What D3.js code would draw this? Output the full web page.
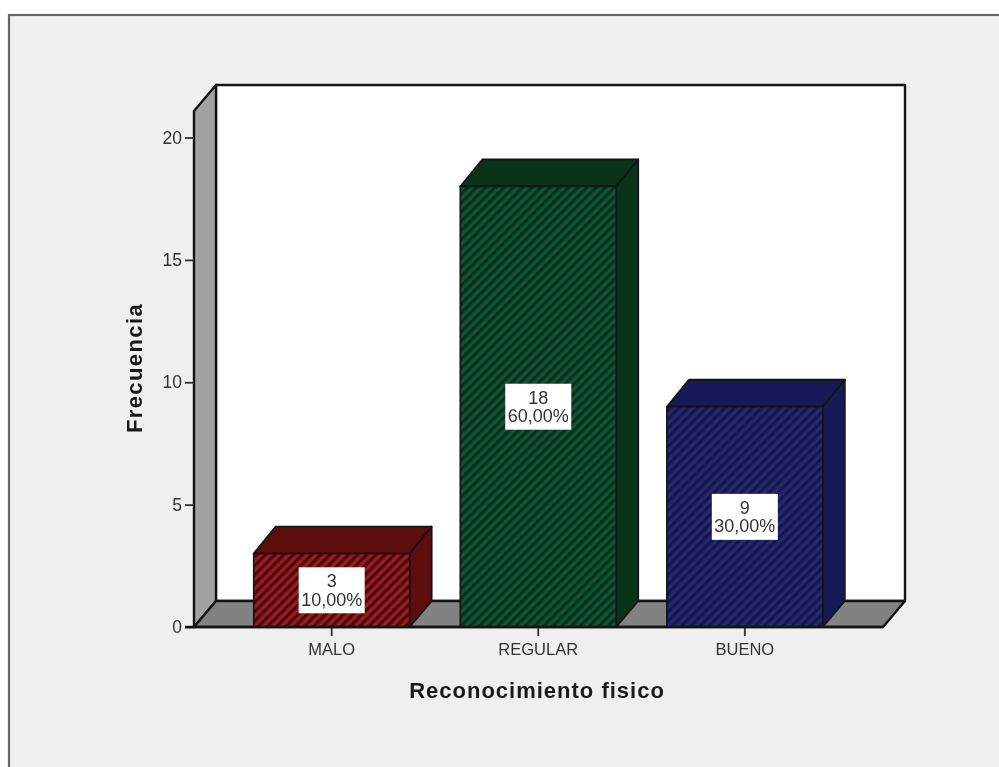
<!DOCTYPE html>
<html><head><meta charset="utf-8">
<script src="https://cdn.jsdelivr.net/npm/d3@7/dist/d3.min.js"></script>
<style>html,body{margin:0;padding:0;background:#fff;overflow:hidden}svg{display:block;filter:blur(.55px)}text{font-family:"Liberation Sans",Arial,sans-serif}</style>
</head><body><script>
const categories = ["MALO","REGULAR","BUENO"];
const counts = [3,18,9];
const percents = ["10,00%","60,00%","30,00%"];
const yTicks = [0,5,10,15,20];
const faceColors = ["#9c1a20","#0f5635","#26296f"];
const hatchColors = ["#470a0c","#0a2f1e","#15174a"];
const sideColors = ["#5e0d0d","#0a331c","#181a58"];
const xTitle = "Reconocimiento fisico";
const yTitle = "Frecuencia";

const W=999,H=767;
const svg=d3.select("body").append("svg").attr("width",W).attr("height",H);
const y=d3.scaleLinear().domain([0,20]).range([627,137.5]);
const x=d3.scaleBand().domain(categories).range([228.5,848]).paddingInner(.245).paddingOuter(.122);
const dx=22,dy=-26;
const left=194,right=883,wallTop=111;
const defs=svg.append("defs");
categories.forEach((c,i)=>{
  const p=defs.append("pattern").attr("id","h"+i).attr("patternUnits","userSpaceOnUse")
    .attr("width",6.5).attr("height",6.5).attr("patternTransform","rotate(45)");
  p.append("rect").attr("width",6.5).attr("height",6.5).attr("fill",faceColors[i]);
  p.append("rect").attr("width",3.2).attr("height",6.5).attr("fill",hatchColors[i]);
});
// background frame
svg.append("rect").attr("x",9).attr("y",15).attr("width",W+10).attr("height",H+10)
  .attr("fill","#efefef").attr("stroke","#666").attr("stroke-width",2.2);
const poly=(pts,fill,sw=2.4)=>svg.append("polygon").attr("points",pts.map(p=>p.join(",")).join(" "))
  .attr("fill",fill).attr("stroke","#141414").attr("stroke-width",sw).attr("stroke-linejoin","round");
// back wall, side wall, floor
poly([[left+dx,wallTop+dy],[right+dx,wallTop+dy],[right+dx,627+dy],[left+dx,627+dy]],"#fff");
poly([[left,wallTop],[left+dx,wallTop+dy],[left+dx,627+dy],[left,627]],"#a3a3a3");
poly([[left,627],[left+dx,627+dy],[right+dx,627+dy],[right,627]],"#828282");
// bars
categories.forEach((c,i)=>{
  const x0=x(c),x1=x0+x.bandwidth(),yt=y(counts[i]),yb=y(0);
  poly([[x0,yt],[x0+dx,yt+dy-1],[x1+dx,yt+dy-1],[x1,yt]],sideColors[i],1.8);
  poly([[x1,yt],[x1+dx,yt+dy-1],[x1+dx,yb+dy],[x1,yb]],sideColors[i],1.8);
  svg.append("rect").attr("x",x0).attr("y",yt).attr("width",x.bandwidth()).attr("height",yb-yt)
    .attr("fill",`url(#h${i})`).attr("stroke","#141414").attr("stroke-width",1.6);
  const cx=(x0+x1)/2,cy=(yt+yb)/2;
  svg.append("rect").attr("x",cx-33).attr("y",cy-23).attr("width",66).attr("height",46).attr("fill","#fff");
  svg.append("text").attr("x",cx).attr("y",cy-3).attr("text-anchor","middle").attr("font-size",18).attr("fill","#333").text(counts[i]);
  svg.append("text").attr("x",cx).attr("y",cy+15.5).attr("text-anchor","middle").attr("font-size",18).attr("fill","#333").text(percents[i]);
});
// axes
const gy=svg.append("g").attr("transform",`translate(${left},0)`)
  .call(d3.axisLeft(y).tickValues(yTicks).tickSize(9).tickPadding(3));
gy.select(".domain").remove();
const gx=svg.append("g").attr("transform","translate(0,627)")
  .call(d3.axisBottom(x).tickSize(9).tickPadding(7));
gx.select(".domain").remove();
svg.append("line").attr("x1",left-9).attr("x2",right).attr("y1",627).attr("y2",627).attr("stroke","#141414").attr("stroke-width",2.4);
[gy,gx].forEach(g=>{
  g.selectAll("line").attr("stroke","#333").attr("stroke-width",1.8);
  g.selectAll("text").attr("fill","#333").attr("font-family",'"Liberation Sans",Arial,sans-serif');
});
gy.selectAll("text").attr("font-size",17.5);
gx.selectAll("text").attr("font-size",16.5);
svg.append("text").attr("x",537).attr("y",698).attr("text-anchor","middle").attr("font-size",22)
  .attr("font-weight","bold").attr("fill","#1a1a1a").attr("letter-spacing",1).text(xTitle);
svg.append("text").attr("transform","translate(142,368) rotate(-90)").attr("text-anchor","middle").attr("font-size",22)
  .attr("font-weight","bold").attr("fill","#1a1a1a").attr("letter-spacing",1.4).text(yTitle);
</script></body></html>
